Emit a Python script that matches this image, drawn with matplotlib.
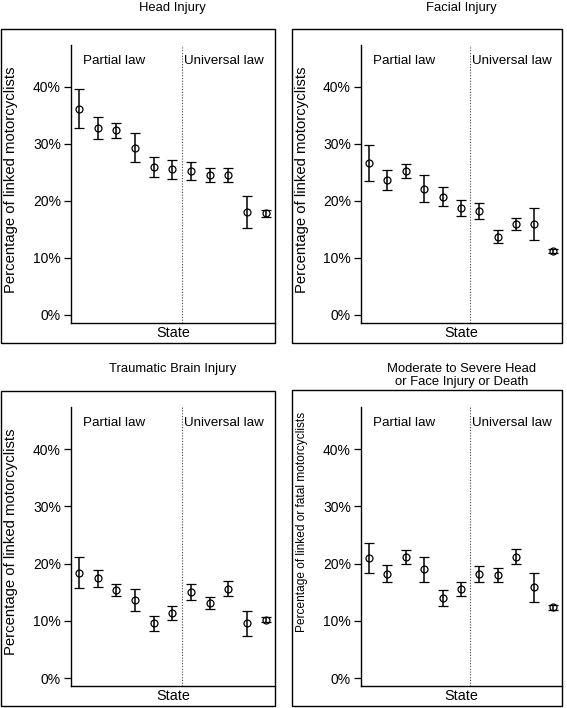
import matplotlib
matplotlib.use("Agg")
import matplotlib.pyplot as plt
from matplotlib.patches import Rectangle
from matplotlib.ticker import FuncFormatter
from matplotlib import font_manager

plt.rcParams['font.family'] = ['Liberation Sans', 'DejaVu Sans']

names = {f.name for f in font_manager.fontManager.ttflist}
HAS_NARROW = 'Liberation Sans Narrow' in names

states = list(range(1, 12))

head_mean = [36.1, 32.8, 32.4, 29.3, 25.9, 25.5, 25.2, 24.5, 24.5, 18.1, 17.8]
head_hi   = [39.5, 34.6, 33.6, 31.9, 27.7, 27.1, 26.8, 25.8, 25.8, 20.8, 18.4]
head_lo   = [32.8, 30.9, 31.0, 26.7, 24.1, 23.8, 23.6, 23.2, 23.2, 15.2, 17.1]

face_mean = [26.6, 23.6, 25.2, 22.1, 20.7, 18.8, 18.2, 13.7, 15.9, 15.9, 11.2]
face_hi   = [29.8, 25.3, 26.4, 24.5, 22.4, 20.2, 19.6, 14.8, 17.0, 18.7, 11.6]
face_lo   = [23.4, 21.9, 23.9, 19.7, 19.0, 17.4, 16.8, 12.6, 14.8, 13.1, 10.8]

tbi_mean = [18.4, 17.4, 15.4, 13.6, 9.6, 11.3, 15.0, 13.1, 15.6, 9.6, 10.2]
tbi_hi   = [21.2, 18.8, 16.5, 15.6, 10.8, 12.6, 16.4, 14.2, 16.9, 11.7, 10.6]
tbi_lo   = [15.8, 15.9, 14.4, 11.7, 8.2, 10.1, 13.7, 12.1, 14.4, 7.4, 9.8]

mod_mean = [20.9, 18.2, 21.1, 19.0, 14.0, 15.6, 18.2, 18.0, 21.2, 15.9, 12.4]
mod_hi   = [23.6, 19.8, 22.3, 21.2, 15.3, 16.8, 19.6, 19.2, 22.5, 18.3, 12.8]
mod_lo   = [18.3, 16.7, 20.0, 16.8, 12.6, 14.3, 16.8, 16.8, 19.9, 13.3, 11.9]

yticks = [0, 10, 20, 30, 40]
divider = 6.5

W, H = 567, 708
fig = plt.figure(figsize=(W / 100, H / 100), dpi=100)


def fx(px):
    return px / W


def fy(py):
    return 1 - py / H


if HAS_NARROW:
    narrow = dict(family=['Liberation Sans Narrow', 'DejaVu Sans'], fontsize=10.4)
else:
    narrow = dict(fontsize=8.6)

panels = [
    dict(title="Head Injury", title_y=[8], ylabel="Percentage of linked motorcyclists",
         mean=head_mean, hi=head_hi, lo=head_lo, ylab_kw=dict(fontsize=10.7), ylab_y=180,
         box=(1, 29, 275, 343), ax=(70.7, 45, 275, 323), ylab_x=11, state_y=333),
    dict(title="Facial Injury", title_y=[8], ylabel="Percentage of linked motorcyclists",
         mean=face_mean, hi=face_hi, lo=face_lo, ylab_kw=dict(fontsize=10.7), ylab_y=180,
         box=(292, 29, 562, 343), ax=(360.7, 45, 562, 323), ylab_x=302, state_y=333),
    dict(title="Traumatic Brain Injury", title_y=[369], ylabel="Percentage of linked motorcyclists",
         mean=tbi_mean, hi=tbi_hi, lo=tbi_lo, ylab_kw=dict(fontsize=10.7), ylab_y=542,
         box=(1, 391, 275, 706), ax=(70.7, 407.3, 275, 686.3), ylab_x=11, state_y=696),
    dict(title="Moderate to Severe Head\nor Face Injury or Death", title_y=[369, 382],
         ylabel="Percentage of linked or fatal motorcyclists", ylab_kw=narrow, ylab_y=522,
         mean=mod_mean, hi=mod_hi, lo=mod_lo,
         box=(292, 390, 562, 706), ax=(360.7, 407.3, 562, 686.3), ylab_x=302, state_y=696),
]

fs = 10

for p in panels:
    bx0, by0, bx1, by1 = p['box']
    fig.patches.append(Rectangle((fx(bx0), fy(by1)), fx(bx1) - fx(bx0), fy(by0) - fy(by1),
                                 transform=fig.transFigure, fill=False, edgecolor='black',
                                 linewidth=1.0, zorder=0))
    ax0, ay0, ax1, ay1 = p['ax']
    ax = fig.add_axes([fx(ax0), fy(ay1), fx(ax1) - fx(ax0), fy(ay0) - fy(ay1)])
    ax.patch.set_alpha(0)
    yerr = [[m - l for m, l in zip(p['mean'], p['lo'])],
            [h - m for m, h in zip(p['mean'], p['hi'])]]
    ax.errorbar(states, p['mean'], yerr=yerr, fmt='o', mfc='none', mec='black', ms=5,
                mew=0.9, ecolor='black', elinewidth=1.1, capsize=3.6, capthick=1.1)
    ax.axvline(divider, color='#444444', linestyle=(0, (1, 1.5)), linewidth=0.8)
    ax.set_xlim(0.55, 11.5)
    ax.set_ylim(-1.45, 47.3)
    ax.set_yticks(yticks)
    ax.yaxis.set_major_formatter(FuncFormatter(lambda v, pos: f"{int(v)}%"))
    ax.set_xticks([])
    for s in ('top', 'right'):
        ax.spines[s].set_visible(False)
    for s in ('left', 'bottom'):
        ax.spines[s].set_linewidth(1.0)
    ax.tick_params(axis='y', length=5, width=0.9, labelsize=fs, pad=2)
    ax.text(0.06, 0.942, "Partial law", transform=ax.transAxes, fontsize=9.6, va='center', ha='left')
    ax.text(0.553, 0.942, "Universal law", transform=ax.transAxes, fontsize=9.6, va='center', ha='left')
    cx = (ax0 + ax1) / 2
    if len(p['title_y']) == 1:
        fig.text(fx(cx), fy(p['title_y'][0]), p['title'], ha='center', va='center', fontsize=9.4)
    else:
        for line, ty in zip(p['title'].split('\n'), p['title_y']):
            fig.text(fx(cx), fy(ty), line, ha='center', va='center', fontsize=9.4)
    fig.text(fx(cx), fy(p['state_y']), "State", ha='center', va='center', fontsize=10.4)
    fig.text(fx(p['ylab_x']), fy(p['ylab_y']), p['ylabel'], ha='center', va='center',
             rotation=90, **p['ylab_kw'])

fig.savefig("out.png", dpi=100)
